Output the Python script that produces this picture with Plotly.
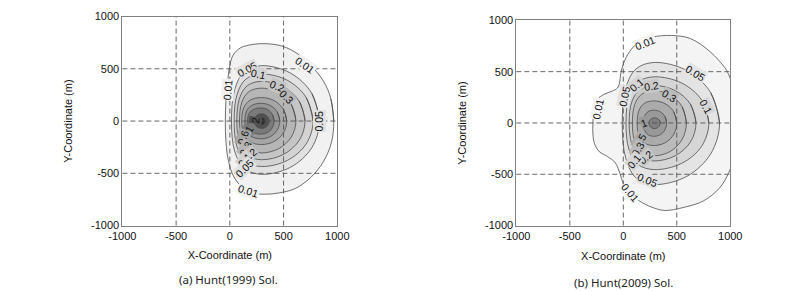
import plotly.graph_objects as go

# ---------------- data: contour outlines (metres) ----------------
# Panel (a) Hunt(1999) solution
A_LEVELS = [0.01, 0.05, 0.1, 0.2, 0.3, 0.6, 0.8, 1, 2, 3]
A_001_X = [967, 940, 872, 753, 634, 485, 336, 217, 98, 30, 0, -21, -36, -42, -36, -12, 33, 113, 217, 336, 455, 604, 753, 872, 946]
A_001_Y = [0, 215, 381, 534, 642, 718, 740, 734, 700, 630, 530, 381, 196, 0, -203, -387, -525, -632, -688, -700, -688, -648, -540, -387, -203]
A_005_X = [835, 763, 565, 295, 134, 46, 15, 46, 134, 295, 565, 763]
A_005_Y = [0, 265, 459, 530, 472, 304, 0, -293, -454, -510, -442, -255]
A_010_X = [775, 711, 535, 295, 149, 68, 40, 68, 149, 295, 535, 711]
A_010_Y = [0, 225, 390, 450, 401, 258, 0, -250, -388, -435, -377, -218]
A_020_X = [700, 646, 498, 295, 163, 90, 65, 90, 163, 295, 498, 646]
A_020_Y = [0, 190, 329, 380, 339, 218, 0, -212, -330, -370, -320, -185]
A_030_X = [615, 572, 455, 295, 177, 112, 90, 112, 177, 295, 455, 572]
A_030_Y = [0, 158, 273, 315, 281, 181, 0, -175, -272, -305, -264, -153]
A_060_X = [530, 499, 413, 295, 189, 130, 110, 130, 189, 295, 413, 499]
A_060_Y = [0, 113, 195, 225, 200, 129, 0, -129, -200, -225, -195, -113]
A_080_X = [465, 442, 380, 295, 206, 157, 140, 157, 206, 295, 380, 442]
A_080_Y = [0, 85, 147, 170, 151, 98, 0, -98, -151, -170, -147, -85]
A_100_X = [412, 396, 354, 295, 220, 179, 165, 179, 220, 295, 354, 396]
A_100_Y = [0, 63, 108, 125, 111, 72, 0, -72, -111, -125, -108, -63]
A_200_X = [366, 356, 330, 295, 260, 237, 228, 237, 260, 295, 330, 356]
A_200_Y = [0, 35, 61, 70, 61, 35, 0, -36, -62, -72, -62, -36]
A_300_X = [330, 326, 313, 296, 279, 266, 262, 266, 279, 296, 313, 326]
A_300_Y = [0, 18, 31, 36, 31, 18, 0, -19, -33, -38, -33, -19]

# Panel (b) Hunt(2009) solution
B_LEVELS = [0.01, 0.05, 0.1, 0.2, 0.3, 0.5, 1, 2]
B_001_X = [1040, 1040, 988, 958, 808, 629, 449, 269, 150, 60, 0, -24, -36, -54, -105, -180, -240, -275, -284,
           -284, -269, -225, -150, -75, -30, 0, 60, 150, 269, 389, 569, 749, 898, 988, 1040]
B_001_Y = [0, 300, 465, 527, 698, 822, 853, 837, 791, 698, 574, 481, 388, 341, 310, 279, 233, 140, 0,
           -109, -202, -279, -326, -388, -496, -589, -682, -760, -822, -853, -822, -760, -636, -480, -300]
B_005_X = [900, 818, 595, 290, 118, 23, -10, 23, 118, 290, 595, 818]
B_005_Y = [0, 295, 511, 590, 526, 339, 0, -344, -535, -600, -520, -300]
B_010_X = [800, 732, 545, 290, 138, 54, 25, 54, 138, 290, 545, 732]
B_010_Y = [0, 225, 390, 450, 401, 258, 0, -261, -405, -455, -394, -228]
B_020_X = [680, 628, 485, 290, 155, 81, 55, 81, 155, 290, 485, 628]
B_020_Y = [0, 183, 316, 365, 325, 210, 0, -212, -330, -370, -320, -185]
B_030_X = [590, 550, 440, 290, 172, 107, 85, 107, 172, 290, 440, 550]
B_030_Y = [0, 158, 273, 315, 281, 181, 0, -184, -285, -320, -277, -160]
B_050_X = [500, 472, 395, 290, 198, 147, 130, 147, 198, 290, 395, 472]
B_050_Y = [0, 108, 186, 215, 192, 123, 0, -126, -196, -220, -191, -110]
B_100_X = [405, 390, 348, 290, 233, 201, 190, 201, 233, 290, 348, 390]
B_100_Y = [0, 63, 108, 125, 111, 72, 0, -75, -116, -130, -113, -65]
B_200_X = [345, 338, 318, 292, 266, 246, 240, 246, 266, 292, 318, 338]
B_200_Y = [0, 25, 43, 50, 43, 25, 0, -28, -48, -55, -48, -28]

# contour labels: (text, x, y, angle)
A_LABELS = [("0.01", 700, 540, 35), ("0.01", -22, 300, -85), ("0.05", 165, 495, -28),
            ("0.1", 268, 450, 12), ("0.2", 440, 340, 22), ("0.3", 530, 228, 45),
            ("0.05", 835, 0, -90), ("2", 232, 5, -80), ("1", 180, -78, -60),
            ("0.6", 122, -150, -70), ("0.3", 150, -258, -60), ("0.2", 180, -322, -40),
            ("0.1", 136, -368, -50), ("0.05", 138, -448, -45), ("0.01", 178, -668, 18)]
B_LABELS = [("0.01", 205, 775, -22), ("0.05", 673, 484, 32), ("0.1", 778, 160, 62),
            ("0.01", -240, 140, -78), ("0.05", 12, 262, -78), ("0.1", 120, 375, -40),
            ("0.2", 268, 360, -8), ("0.3", 435, 266, 30), ("1", 195, 0, -20),
            ("0.5", 150, -171, -60), ("0.3", 135, -250, -60), ("0.2", 210, -328, -40),
            ("0.1", 105, -374, -50), ("0.05", 228, -560, 22), ("0.01", 70, -680, 50)]

TICKS = [-1000, -500, 0, 500, 1000]
GRID = [-500, 0, 500]

A_COLORS = ["#f1f1f1", "#e1e1e1", "#d3d3d3", "#c5c5c5", "#b6b6b6", "#a6a6a6", "#959595", "#7a7a7a", "#505050", "#2e2e2e"]
B_COLORS = ["#f4f4f4", "#e4e4e4", "#d6d6d6", "#c9c9c9", "#bbbbbb", "#ababab", "#999999", "#7f7f7f"]

A_RINGS = [(A_001_X, A_001_Y), (A_005_X, A_005_Y), (A_010_X, A_010_Y), (A_020_X, A_020_Y),
           (A_030_X, A_030_Y), (A_060_X, A_060_Y), (A_080_X, A_080_Y), (A_100_X, A_100_Y),
           (A_200_X, A_200_Y), (A_300_X, A_300_Y)]
B_RINGS = [(B_001_X, B_001_Y), (B_005_X, B_005_Y), (B_010_X, B_010_Y), (B_020_X, B_020_Y),
           (B_030_X, B_030_Y), (B_050_X, B_050_Y), (B_100_X, B_100_Y), (B_200_X, B_200_Y)]

fig = go.Figure()

LINE_COLOR = "#4d4d4d"
FONT = "Liberation Sans, Arial, sans-serif"


def add_panel(rings, levels, colors, labels, xa, ya):
    for (xs, ys), lev, col in zip(rings, levels, colors):
        fig.add_trace(go.Scatter(
            x=list(xs) + [xs[0], xs[1]], y=list(ys) + [ys[0], ys[1]],
            mode="lines", fill="toself", fillcolor=col,
            line=dict(color=LINE_COLOR, width=0.8, shape="spline", smoothing=1.0),
            xaxis=xa, yaxis=ya, hoverinfo="skip", showlegend=False, name=str(lev)))
    for text, x, y, ang in labels:
        val = float(text)
        idx = levels.index(val) if val in levels else 0
        fig.add_annotation(x=x, y=y, xref=xa, yref=ya, text=text, showarrow=False,
                           textangle=ang, font=dict(family=FONT, size=10.5, color="#111"),
                           bgcolor=colors[idx], borderpad=0)
    for g in GRID:
        fig.add_shape(type="line", x0=g, x1=g, y0=0, y1=1, xref=xa, yref=ya + " domain",
                      line=dict(color="#555", width=0.9, dash="5px,3px"), layer="above")
        fig.add_shape(type="line", y0=g, y1=g, x0=0, x1=1, yref=ya, xref=xa + " domain",
                      line=dict(color="#555", width=0.9, dash="5px,3px"), layer="above")


add_panel(A_RINGS, A_LEVELS, A_COLORS, A_LABELS, "x", "y")
add_panel(B_RINGS, B_LEVELS, B_COLORS, B_LABELS, "x2", "y2")

W, H = 810, 291
axis_common = dict(range=[-1000, 1000], tickvals=TICKS, ticktext=[str(t) for t in TICKS],
                   showgrid=False, zeroline=False, showline=True, mirror=True,
                   linecolor="#808080", linewidth=1, ticks="",
                   tickfont=dict(family=FONT, size=11, color="#111"))
title_font = dict(family=FONT, size=11, color="#111")

fig.update_layout(
    width=W, height=H, margin=dict(l=0, r=0, t=0, b=0),
    paper_bgcolor="white", plot_bgcolor="white",
    xaxis=dict(domain=[112 / W, 334 / W], anchor="y",
               title=dict(text="X-Coordinate (m)", font=title_font, standoff=10), **axis_common),
    yaxis=dict(domain=[1 - 229 / H, 1 - 11 / H], anchor="x",
               title=dict(text="Y-Coordinate (m)", font=title_font, standoff=16), **axis_common),
    xaxis2=dict(domain=[519 / W, 740 / W], anchor="y2",
                title=dict(text="X-Coordinate (m)", font=title_font, standoff=11), **axis_common),
    yaxis2=dict(domain=[1 - 229 / H, 1 - 15 / H], anchor="x2",
                title=dict(text="Y-Coordinate (m)", font=title_font, standoff=16), **axis_common),
)

fig.add_annotation(x=222 / W, y=1 - 285 / H, xref="paper", yref="paper", showarrow=False,
                   xanchor="center", yanchor="middle",
                   text="(a) Hunt(1999) Sol.", font=dict(family="Noto Sans", size=11.5, color="#222"))
fig.add_annotation(x=630 / W, y=1 - 288 / H, xref="paper", yref="paper", showarrow=False,
                   xanchor="center", yanchor="middle",
                   text="(b) Hunt(2009) Sol.", font=dict(family="Noto Sans", size=11.5, color="#222"))

fig.write_html("out.html")
